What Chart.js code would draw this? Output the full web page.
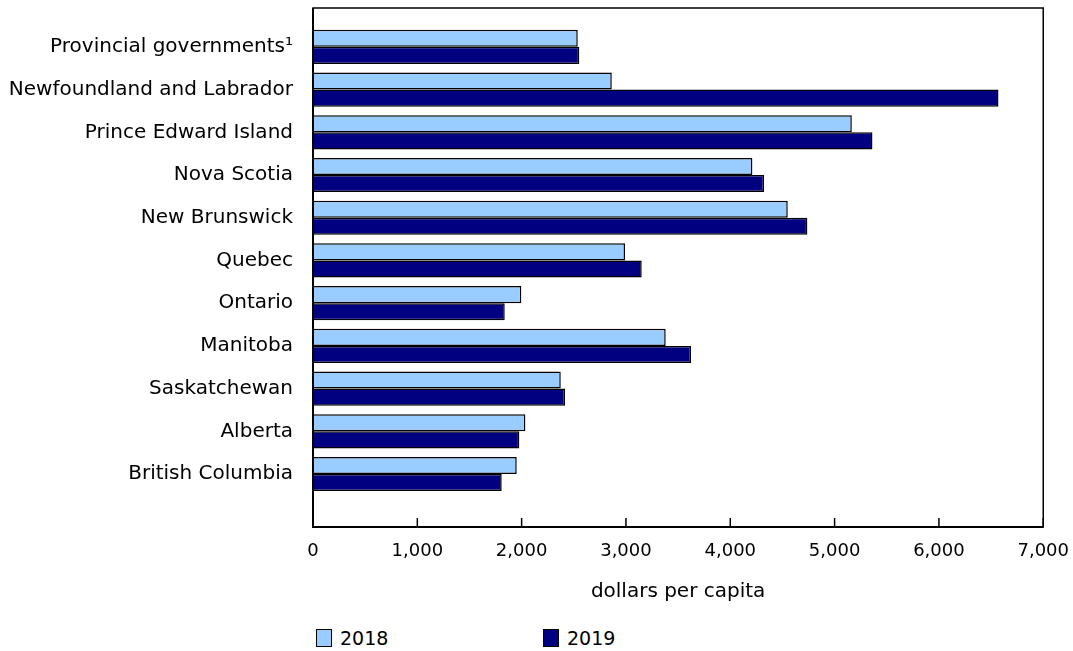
<!DOCTYPE html>
<html>
<head>
<meta charset="utf-8">
<script src="https://cdn.jsdelivr.net/npm/chart.js@4/dist/chart.umd.min.js"></script>
<style>
  html, body { margin: 0; padding: 0; background: #fff; }
  body { width: 1073px; height: 651px; position: relative; overflow: hidden; font-family: "DejaVu Sans", Verdana, sans-serif; }
  /* canvas is a bit bigger than the page so the plot frame lands where the reference has it */
  #wrap { position: absolute; left: 0; top: -24px; width: 1083px; height: 639px; }
  .legend { position: absolute; top: 627px; font-size: 19px; color: #000; display: flex; align-items: center; }
  .legend span.box { display: inline-block; width: 16px; height: 18px; border: 1.5px solid #000; margin-right: 8px; box-sizing: border-box; }
</style>
</head>
<body>
<div id="wrap"><canvas id="chart"></canvas></div>
<div class="legend" style="left:316px"><span class="box" style="background:#99ccff"></span>2018</div>
<div class="legend" style="left:543px"><span class="box" style="background:#000080"></span>2019</div>
<script>
// ===== Data =====
const categories = [
  "Provincial governments\u00b9",
  "Newfoundland and Labrador",
  "Prince Edward Island",
  "Nova Scotia",
  "New Brunswick",
  "Quebec",
  "Ontario",
  "Manitoba",
  "Saskatchewan",
  "Alberta",
  "British Columbia"
];
const values2018 = [2538, 2864, 5165, 4212, 4551, 2991, 1997, 3381, 2375, 2036, 1953];
const values2019 = [2553, 6571, 5363, 4324, 4739, 3151, 1838, 3624, 2416, 1978, 1809];
const xTicks = [0, 1000, 2000, 3000, 4000, 5000, 6000, 7000];

const FONT = "'DejaVu Sans', Verdana, sans-serif";
const fmt = (n) => n.toLocaleString("en-US");

// frame round the plot + inward tick marks on the x axis
const framePlugin = {
  id: "frame",
  afterDatasetsDraw(chart) {
    const { ctx, chartArea: a, scales } = chart;
    ctx.save();
    ctx.strokeStyle = "#000";
    ctx.lineWidth = 1.5;
    ctx.strokeRect(a.left, a.top, a.right - a.left, a.bottom - a.top);
    ctx.lineWidth = 2;
    ctx.beginPath();
    ctx.moveTo(a.left, a.top);
    ctx.lineTo(a.left, a.bottom);
    ctx.lineTo(a.right, a.bottom);
    ctx.stroke();
    ctx.lineWidth = 1.5;
    scales.x.ticks.forEach((t, i) => {
      const px = scales.x.getPixelForTick(i);
      ctx.beginPath();
      ctx.moveTo(px, a.bottom);
      ctx.lineTo(px, a.bottom - 9);
      ctx.stroke();
    });
    ctx.restore();
  }
};

const toPoints = (vals) => vals.map((v, i) => ({ x: v, y: i }));

new Chart(document.getElementById("chart"), {
  type: "bar",
  data: {
    datasets: [
      { label: "2018", data: toPoints(values2018), backgroundColor: "#99ccff", borderColor: "#000", borderWidth: 1.5 },
      { label: "2019", data: toPoints(values2019), backgroundColor: "#000080", borderColor: "#000", borderWidth: 1.5 }
    ]
  },
  options: {
    indexAxis: "y",
    responsive: true,
    maintainAspectRatio: false,
    animation: false,
    categoryPercentage: 0.8,
    barPercentage: 1.0,
    layout: { autoPadding: false, padding: 0 },
    plugins: { legend: { display: false }, tooltip: { enabled: false } },
    scales: {
      x: {
        type: "linear",
        min: 0,
        max: 7000,
        grid: { display: false, drawTicks: false },
        border: { display: false },
        afterBuildTicks: (s) => { s.ticks = xTicks.map(v => ({ value: v })); },
        ticks: { color: "#000", font: { family: FONT, size: 18 }, padding: 14, callback: (v) => fmt(v) },
        title: { display: true, text: "dollars per capita", color: "#000", font: { family: FONT, size: 20 }, padding: { top: 2, bottom: 11 } },
        afterFit: (s) => { s.height = 88; }
      },
      y: {
        type: "linear",
        reverse: true,
        offset: false,
        min: -0.91,
        max: 11.24,
        grid: { display: false, drawTicks: false },
        border: { display: false },
        afterBuildTicks: (s) => { s.ticks = categories.map((_, i) => ({ value: i })); },
        ticks: { color: "#000", font: { family: FONT, size: 20 }, padding: 20, autoSkip: false, callback: (v) => categories[v] ?? "" },
        afterFit: (s) => { s.width = 313; }
      }
    }
  },
  plugins: [framePlugin]
});
</script>
</body>
</html>
